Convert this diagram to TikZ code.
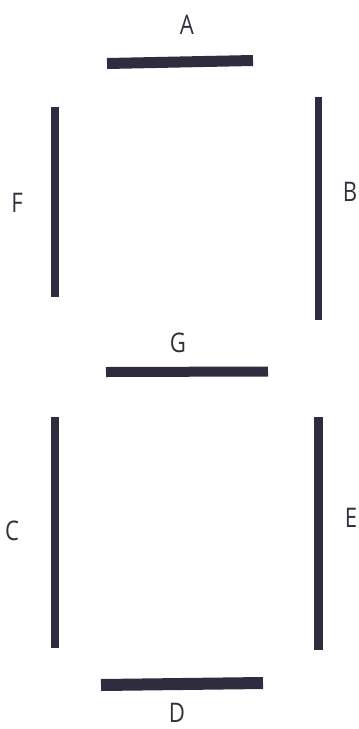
\documentclass[tikz,border=0pt]{standalone}
\usepackage{fontspec}
\setmainfont[FakeStretch=0.82]{Open Sans}
\definecolor{barc}{RGB}{46,45,64}
\definecolor{labc}{RGB}{50,50,62}
\begin{document}
\begin{tikzpicture}[x=1pt,y=-1pt,
  bar/.style={draw=barc,line cap=butt},
  lab/.style={text=labc,font=\fontsize{27}{30}\selectfont,inner sep=0pt,anchor=center}]
\useasboundingbox (0,0) rectangle (359,729);
% segments
\coordinate (a1) at (107,63.5); \coordinate (a2) at (253,60.5);
\coordinate (f1) at (55,107);   \coordinate (f2) at (55,297);
\coordinate (b1) at (318.5,97); \coordinate (b2) at (318.5,320);
\coordinate (g1) at (106,372);  \coordinate (g2) at (268,371.5);
\coordinate (c1) at (55,417);   \coordinate (c2) at (55,648);
\coordinate (e1) at (318.5,417);\coordinate (e2) at (318.5,650);
\coordinate (d1) at (101,685);  \coordinate (d2) at (263,683);
\draw[bar,line width=11] (a1) -- (a2);
\draw[bar,line width=8] (f1) -- (f2);
\draw[bar,line width=7.5] (b1) -- (b2);
\draw[bar,line width=10] (g1) -- (g2);
\draw[bar,line width=8] (c1) -- (c2);
\draw[bar,line width=8.5] (e1) -- (e2);
\draw[bar,line width=12] (d1) -- (d2);
% labels
\node[lab] (la) at (187,25) {A};
\node[lab] (lf) at (17,203) {F};
\node[lab] (lb) at (350,192) {B};
\node[lab] (lg) at (178,343) {G};
\node[lab] (lc) at (12,531) {C};
\node[lab] (le) at (351,518) {E};
\node[lab] (ld) at (177,713) {D};
\end{tikzpicture}
\end{document}
